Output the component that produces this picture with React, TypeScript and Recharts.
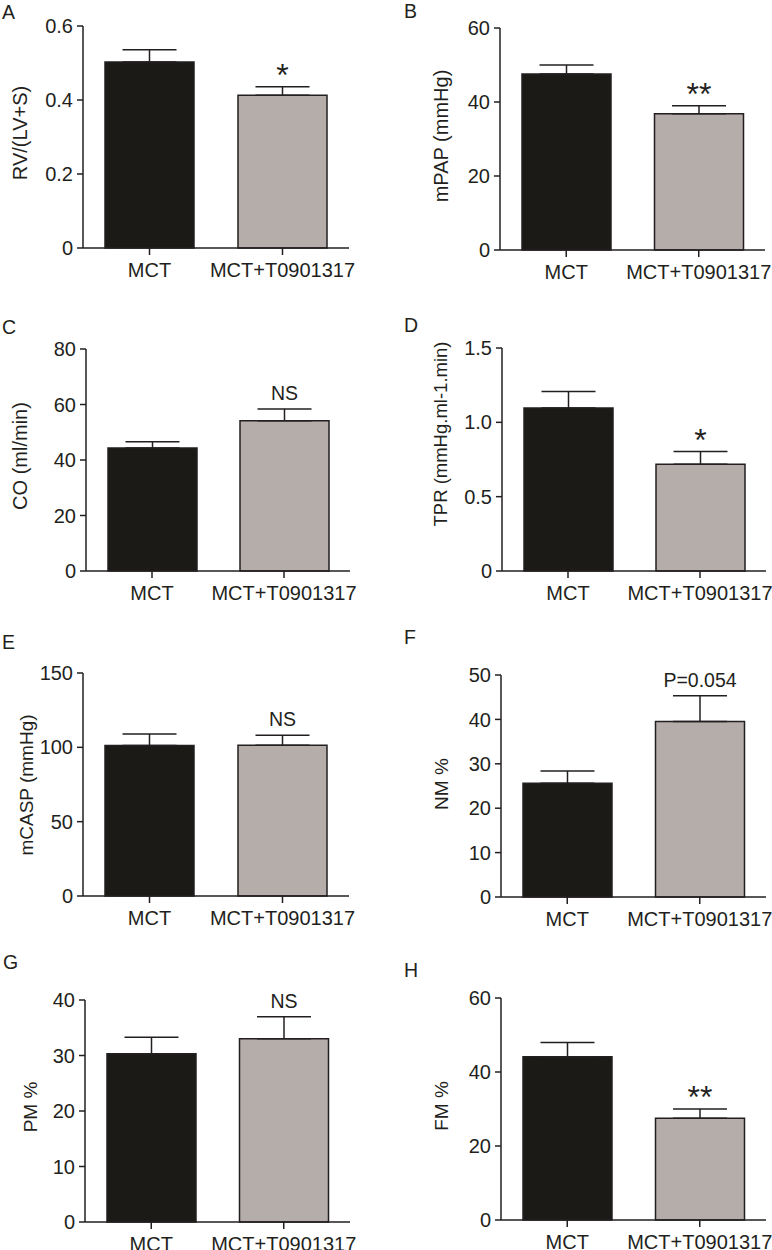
import React from 'react';
import { BarChart, Bar, XAxis, YAxis, Cell, ErrorBar, LabelList } from 'recharts';

const groups = ['MCT', 'MCT+T0901317'];
const barColors = ['#1b1a17', '#b4adaa'];

const panelLetters = ['A', 'B', 'C', 'D', 'E', 'F', 'G', 'H'];
const yTitles = [
  'RV/(LV+S)',
  'mPAP (mmHg)',
  'CO (ml/min)',
  'TPR (mmHg.ml-1.min)',
  'mCASP (mmHg)',
  'NM %',
  'PM %',
  'FM %',
];
const significance = ['*', '**', 'NS', '*', 'NS', 'P=0.054', 'NS', '**'];

// means and SEM
const rvMean = [0.503, 0.413];
const rvSem = [0.033, 0.023];
const mpapMean = [47.6, 36.8];
const mpapSem = [2.4, 2.2];
const coMean = [44.3, 54.1];
const coSem = [2.3, 4.3];
const tprMean = [1.097, 0.718];
const tprSem = [0.11, 0.085];
const mcaspMean = [101.2, 101.4];
const mcaspSem = [7.8, 6.8];
const nmMean = [25.6, 39.5];
const nmSem = [2.8, 5.8];
const pmMean = [30.3, 33.0];
const pmSem = [3.0, 4.0];
const fmMean = [44.1, 27.5];
const fmSem = [3.9, 2.5];

const means = [rvMean, mpapMean, coMean, tprMean, mcaspMean, nmMean, pmMean, fmMean];
const sems = [rvSem, mpapSem, coSem, tprSem, mcaspSem, nmSem, pmSem, fmSem];

const yTicks = [
  [0, 0.2, 0.4, 0.6],
  [0, 20, 40, 60],
  [0, 20, 40, 60, 80],
  [0, 0.5, 1.0, 1.5],
  [0, 50, 100, 150],
  [0, 10, 20, 30, 40, 50],
  [0, 10, 20, 30, 40],
  [0, 20, 40, 60],
];
const yTickLabels = [
  ['0', '0.2', '0.4', '0.6'],
  ['0', '20', '40', '60'],
  ['0', '20', '40', '60', '80'],
  ['0', '0.5', '1.0', '1.5'],
  ['0', '50', '100', '150'],
  ['0', '10', '20', '30', '40', '50'],
  ['0', '10', '20', '30', '40'],
  ['0', '20', '40', '60'],
];

// page layout of each panel (plot box in page pixels)
const frames = [
  { left: 83, right: 349, top: 26, bottom: 248, titleX: 27, titleY: 133, titleSize: 20, letterX: 2, letterY: 18.6 },
  { left: 500, right: 765, top: 28, bottom: 250, titleX: 448, titleY: 136, titleSize: 20, letterX: 404, letterY: 17.6 },
  { left: 86, right: 350, top: 349, bottom: 571, titleX: 27, titleY: 456, titleSize: 20, letterX: 2, letterY: 333.6 },
  { left: 502, right: 766, top: 348, bottom: 571, titleX: 447, titleY: 434, titleSize: 18.5, letterX: 404, letterY: 331.6 },
  { left: 83, right: 349, top: 673, bottom: 896, titleX: 33, titleY: 785, titleSize: 19, letterX: 2, letterY: 648.6 },
  { left: 501, right: 766, top: 675, bottom: 897, titleX: 448, titleY: 784, titleSize: 19, letterX: 404, letterY: 643.6 },
  { left: 85, right: 350, top: 1000, bottom: 1222, titleX: 36.5, titleY: 1107, titleSize: 19, letterX: 3, letterY: 968.6 },
  { left: 501, right: 766, top: 998, bottom: 1220, titleX: 448, titleY: 1106, titleSize: 19, letterX: 404, letterY: 976.6 },
];

const INK = '#231f20';
const FONT = '"Liberation Sans", Arial, Helvetica, sans-serif';
const axisStyle = { stroke: INK, strokeWidth: 1.5 };

const Y_W = 80;
const M_TOP = 40;
const M_RIGHT = 6;
const X_H = 45;

function Panel({ i }: { i: number }) {
  const f = frames[i];
  const chartLeft = f.left - Y_W;
  const chartTop = f.top - M_TOP;
  const width = f.right - f.left + Y_W + M_RIGHT;
  const height = f.bottom - f.top + M_TOP + X_H;
  const ticks = yTicks[i];
  const data = groups.map((g, k) => ({ name: g, mean: means[i][k], err: [0, sems[i][k]] }));

  const fmt = (v: number) => {
    const k = ticks.findIndex((t) => Math.abs(t - v) < 1e-9);
    return k >= 0 ? yTickLabels[i][k] : String(v);
  };

  const title = () => {
    const tx = f.titleX - chartLeft;
    const ty = f.titleY - chartTop;
    return (
      <text
        x={tx}
        y={ty}
        transform={`rotate(-90 ${tx} ${ty})`}
        textAnchor="middle"
        fill={INK}
        fontSize={f.titleSize}
        fontFamily={FONT}
      >
        {yTitles[i]}
      </text>
    );
  };

  const annot = (props: any) => {
    if (props.index !== 1) return null;
    const vb = props.viewBox || {};
    const x = props.x ?? vb.x;
    const y = props.y ?? vb.y;
    const w = props.width ?? vb.width;
    const h = Math.abs(props.height ?? vb.height);
    const v = means[i][1];
    const errTop = y - sems[i][1] * (h / v);
    const txt = significance[i];
    const star = txt.startsWith('*');
    return (
      <text
        x={x + w / 2}
        y={star ? errTop - 1 : errTop - 9}
        textAnchor="middle"
        fill={INK}
        fontSize={star ? 32 : 19.5}
        fontFamily={FONT}
      >
        {txt}
      </text>
    );
  };

  return (
    <div style={{ position: 'absolute', left: chartLeft, top: chartTop }}>
      <BarChart
        width={width}
        height={height}
        data={data}
        margin={{ top: M_TOP, right: M_RIGHT, left: 0, bottom: 0 }}
        barSize={89}
      >
        <XAxis
          dataKey="name"
          height={X_H}
          interval={0}
          tickSize={7}
          tickMargin={8}
          axisLine={axisStyle}
          tickLine={axisStyle}
          tick={{ fontSize: 20, fill: INK, fontFamily: FONT }}
        />
        <YAxis
          width={Y_W}
          type="number"
          domain={[0, ticks[ticks.length - 1]]}
          ticks={ticks}
          interval={0}
          tickFormatter={fmt}
          tickSize={6}
          tickMargin={4}
          axisLine={axisStyle}
          tickLine={axisStyle}
          tick={{ fontSize: 20, fill: INK, fontFamily: FONT }}
          label={{ content: title }}
        />
        <Bar dataKey="mean" stroke={INK} strokeWidth={1.5} isAnimationActive={false}>
          {data.map((d, k) => (
            <Cell key={d.name} fill={barColors[k]} />
          ))}
          <ErrorBar dataKey="err" direction="y" width={27} stroke={INK} strokeWidth={1.5} />
          <LabelList dataKey="mean" content={annot} />
        </Bar>
      </BarChart>
    </div>
  );
}

export default function App() {
  return (
    <div style={{ position: 'absolute', left: 0, top: 0, width: 772, height: 1250, background: '#fff' }}>
      <svg width={772} height={1250} style={{ position: 'absolute', left: 0, top: 0 }}>
        {frames.map((f, i) => (
          <text key={panelLetters[i]} x={f.letterX} y={f.letterY} fontSize={19.5} fill={INK} fontFamily={FONT}>
            {panelLetters[i]}
          </text>
        ))}
      </svg>
      {frames.map((f, i) => (
        <Panel key={panelLetters[i]} i={i} />
      ))}
    </div>
  );
}
